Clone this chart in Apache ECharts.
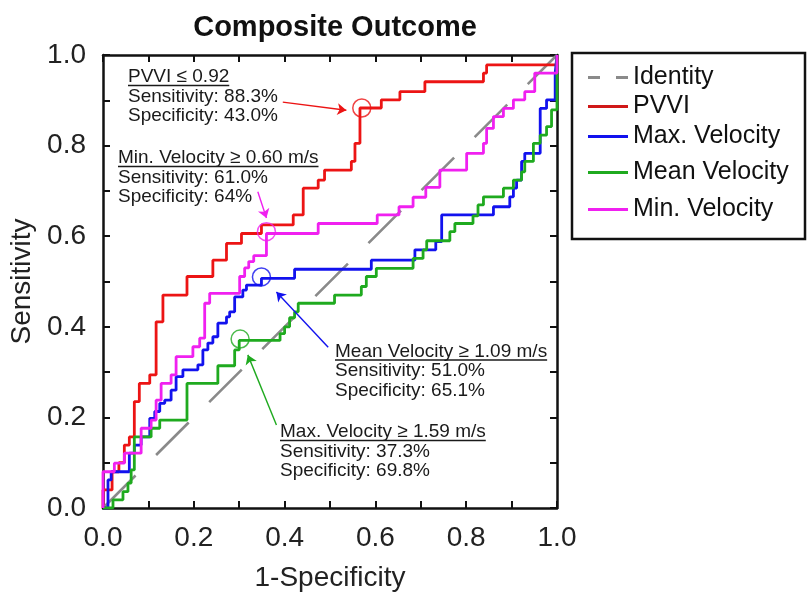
<!DOCTYPE html>
<html>
<head>
<meta charset="utf-8">
<script src="https://cdn.jsdelivr.net/npm/echarts@6/dist/echarts.min.js"></script>
<style>html,body{margin:0;padding:0;background:#fff}#c{width:812px;height:605px}</style>
</head>
<body>
<div id="c"></div>
<script>
// ---------- DATA ----------
const identityFpr = [0, 1];
const identityTpr = [0, 1];

// ROC points (1-Specificity, Sensitivity); curve is drawn as a staircase (step 'end')
const pvviFpr = [0,0,0.02,0.035,0.047,0.058,0.069,0.080,0.103,0.117,0.132,0.185,0.242,0.272,0.305,0.349,0.419,0.441,0.474,0.488,0.547,0.555,0.566,0.613,0.654,0.709,0.838,0.845,1];
const pvviTpr = [0,0.04,0.08,0.10,0.139,0.157,0.235,0.275,0.294,0.411,0.470,0.511,0.547,0.584,0.606,0.625,0.647,0.706,0.724,0.746,0.765,0.805,0.883,0.901,0.919,0.941,0.960,0.978,1];

const maxVelFpr = [0,0.011,0.018,0.058,0.069,0.084,0.103,0.114,0.125,0.136,0.150,0.161,0.176,0.209,0.220,0.231,0.242,0.253,0.272,0.279,0.290,0.308,0.316,0.349,0.422,0.591,0.687,0.733,0.746,0.860,0.896,0.904,0.911,0.922,0.929,0.963,0.977,0.996,1];
const maxVelTpr = [0,0.062,0.080,0.121,0.139,0.157,0.198,0.213,0.231,0.238,0.260,0.290,0.305,0.316,0.349,0.364,0.378,0.408,0.422,0.433,0.466,0.481,0.492,0.507,0.527,0.547,0.570,0.588,0.647,0.665,0.687,0.706,0.724,0.765,0.783,0.882,0.901,0.960,1];

const meanVelFpr = [0,0.022,0.044,0.055,0.062,0.069,0.106,0.125,0.185,0.253,0.290,0.300,0.390,0.400,0.411,0.422,0.430,0.510,0.569,0.580,0.602,0.683,0.705,0.713,0.764,0.775,0.815,0.826,0.838,0.882,0.904,0.922,0.929,0.948,0.963,0.977,0.988,1];
const meanVelTpr = [0,0.018,0.036,0.055,0.084,0.157,0.176,0.194,0.275,0.314,0.349,0.370,0.385,0.400,0.420,0.433,0.452,0.470,0.489,0.511,0.529,0.551,0.570,0.590,0.610,0.628,0.645,0.669,0.687,0.706,0.724,0.742,0.765,0.805,0.823,0.842,0.879,1];

const minVelFpr = [0,0,0.025,0.047,0.084,0.106,0.117,0.128,0.150,0.161,0.198,0.213,0.224,0.235,0.301,0.312,0.321,0.332,0.360,0.474,0.604,0.652,0.683,0.711,0.742,0.801,0.838,0.845,0.860,0.882,0.904,0.929,0.951,1];
const minVelTpr = [0,0.080,0.099,0.121,0.176,0.194,0.238,0.275,0.294,0.334,0.356,0.375,0.452,0.474,0.511,0.530,0.544,0.557,0.606,0.628,0.647,0.665,0.686,0.708,0.746,0.783,0.805,0.838,0.864,0.882,0.901,0.919,0.960,1];

// Optimal cut-off points (circled)
const cutNames = ['PVVI', 'Min. Velocity', 'Max. Velocity', 'Mean Velocity'];
const cutFpr = [0.570, 0.360, 0.349, 0.302];
const cutTpr = [0.883, 0.610, 0.510, 0.373];

// Arrow start points (data coords), arrows end near the circles
const arrowFromFpr = [0.396, 0.341, 0.496, 0.382];
const arrowFromTpr = [0.896, 0.698, 0.355, 0.183];
const arrowToFpr   = [0.536, 0.360, 0.382, 0.319];
const arrowToTpr   = [0.878, 0.640, 0.477, 0.338];

const annotations = [
  ['PVVI \u2264 0.92', 'Sensitivity: 88.3%', 'Specificity: 43.0%'],
  ['Min. Velocity \u2265 0.60 m/s', 'Sensitivity: 61.0%', 'Specificity: 64%'],
  ['Mean Velocity \u2265 1.09 m/s', 'Sensitivity: 51.0%', 'Specificity: 65.1%'],
  ['Max. Velocity \u2265 1.59 m/s', 'Sensitivity: 37.3%', 'Specificity: 69.8%']
];
const xTicks = ['0.0','0.2','0.4','0.6','0.8','1.0'];

// ---------- STYLE / LAYOUT ----------
const FONT = '"Liberation Sans", Arial, Helvetica, sans-serif';
const colors = {id:'#8a8a8a', pvvi:'#ec1414', max:'#1212ee', mean:'#1faa1f', min:'#f020f0'};
const cutColors = [colors.pvvi, colors.min, colors.max, colors.mean];
const annoPos = [ // [x, first line center y]
  [128, 77], [118, 158], [335, 351.5], [280, 432]
];
const annoLineGap = 19.5;
const annoFontSize = 19;

const zip = (a, b) => a.map((v, i) => [v, b[i]]);

const chart = echarts.init(document.getElementById('c'), null, {renderer: 'canvas'});

const ctx = document.createElement('canvas').getContext('2d');
ctx.font = annoFontSize + 'px ' + FONT;

const graphics = [];
annotations.forEach((lines, k) => {
  const [x0, y0] = annoPos[k];
  lines.forEach((t, j) => {
    graphics.push({type:'text', x: x0, y: y0 + j*annoLineGap, z: 10,
      style:{text: t, x: 0, y: 0, font: annoFontSize + 'px ' + FONT, fill:'#1a1a1a', textVerticalAlign:'middle', textAlign:'left'}});
  });
  const w = ctx.measureText(lines[0]).width;
  graphics.push({type:'line', z:10, shape:{x1:x0, y1:y0+8.5, x2:x0+w, y2:y0+8.5}, style:{stroke:'#1a1a1a', lineWidth:1.3}});
});
// legend frame
graphics.push({type:'rect', z:0, shape:{x:572, y:53, width:233, height:186}, style:{fill:'#fff', stroke:'#111', lineWidth:2.5}});

const axisLine = {onZero:false, lineStyle:{color:'#111', width:2.5}};
const axisTick = {inside:true, length:7, lineStyle:{color:'#111', width:2}};
const evenFmt = v => (Math.round(v*10) % 2 === 0 ? xTicks[Math.round(v*5)] : '');

function arrow(i, color) {
  return {
    silent: true, animation: false,
    symbol: ['none', 'arrow'], symbolSize: 9,
    label: {show: false},
    lineStyle: {color: color, width: 1.4, type: 'solid'},
    data: [[{coord: [arrowFromFpr[i], arrowFromTpr[i]]}, {coord: [arrowToFpr[i], arrowToTpr[i]]}]]
  };
}

const legendTops = [60, 89, 119, 155, 192];
const legendNames = ['Identity', 'PVVI', 'Max. Velocity', 'Mean Velocity', 'Min. Velocity'];
const legends = legendNames.map((n, i) => ({
  data:[n], left:583, top:legendTops[i], itemWidth:40, itemHeight:3, itemGap:0, orient:'vertical',
  icon: n === 'Identity' ? 'path://M0,0H12V3H0Z M28,0H40V3H28Z' : 'rect',
  textStyle:{fontSize:25, color:'#111', fontFamily:FONT}, selectedMode:false, z: 5
}));

chart.setOption({
  animation: false,
  backgroundColor: '#fff',
  title: {text:'Composite Outcome', left:330, top:8, textAlign:'center',
    textStyle:{fontSize:29, fontWeight:'bold', color:'#111', fontFamily:FONT}},
  grid: {left:103, right:255, top:55, bottom:97, containLabel:false},
  legend: legends,
  xAxis: [
    {type:'value', min:0, max:1, interval:0.1, position:'bottom', axisLine, axisTick,
     axisLabel:{formatter: evenFmt, fontSize:28, color:'#222', margin:16, fontFamily:FONT},
     splitLine:{show:false},
     name:'1-Specificity', nameLocation:'middle', nameGap:56,
     nameTextStyle:{fontSize:28, color:'#222', fontFamily:FONT}},
    {type:'value', min:0, max:1, interval:0.1, position:'top', axisLine, axisTick,
     axisLabel:{show:false}, splitLine:{show:false}}
  ],
  yAxis: [
    {type:'value', min:0, max:1, interval:0.1, position:'left', axisLine, axisTick,
     axisLabel:{formatter: evenFmt, fontSize:28, color:'#222', margin:17, fontFamily:FONT},
     splitLine:{show:false},
     name:'Sensitivity', nameLocation:'middle', nameGap:62,
     nameTextStyle:{fontSize:28, color:'#222', fontFamily:FONT}},
    {type:'value', min:0, max:1, interval:0.1, position:'right', axisLine, axisTick,
     axisLabel:{show:false}, splitLine:{show:false}}
  ],
  graphic: graphics,
  series: [
    {name:'Identity', type:'line', symbol:'none', data: zip(identityFpr, identityTpr), z:2,
     lineStyle:{color:colors.id, width:2.6, type:[46,29]}, itemStyle:{color:colors.id}},
    {name:'PVVI', type:'line', step:'end', symbol:'none', data: zip(pvviFpr, pvviTpr), z:3,
     lineStyle:{color:colors.pvvi, width:2.8}, itemStyle:{color:'#d01818'}, markLine: arrow(0, colors.pvvi)},
    {name:'Max. Velocity', type:'line', step:'end', symbol:'none', data: zip(maxVelFpr, maxVelTpr), z:3,
     lineStyle:{color:colors.max, width:2.8}, itemStyle:{color:colors.max}, markLine: arrow(2, colors.max)},
    {name:'Mean Velocity', type:'line', step:'end', symbol:'none', data: zip(meanVelFpr, meanVelTpr), z:3,
     lineStyle:{color:colors.mean, width:2.8}, itemStyle:{color:colors.mean}, markLine: arrow(3, colors.mean)},
    {name:'Min. Velocity', type:'line', step:'end', symbol:'none', data: zip(minVelFpr, minVelTpr), z:3,
     lineStyle:{color:colors.min, width:2.8}, itemStyle:{color:colors.min}, markLine: arrow(1, colors.min)},
    {name:'Cut-off', type:'scatter', symbol:'circle', symbolSize:18, z:4, silent:true,
     data: cutFpr.map((x, i) => ({name: cutNames[i], value:[x, cutTpr[i]],
       itemStyle:{color:'rgba(0,0,0,0)', borderColor: cutColors[i], borderWidth:1.5}}))}
  ]
});
</script>
</body>
</html>
